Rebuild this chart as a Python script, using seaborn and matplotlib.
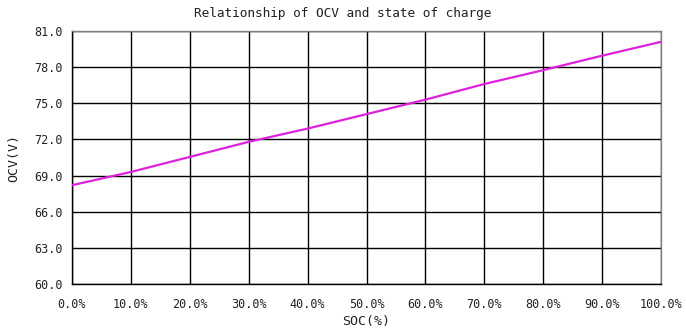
import matplotlib
matplotlib.use("Agg")
import matplotlib.pyplot as plt
import seaborn as sns
import pandas as pd
from matplotlib.ticker import FuncFormatter

# State of charge (%) and open-circuit voltage (V)
soc = [0, 10, 20, 30, 40, 50, 60, 70, 80, 90, 100]
ocv = [68.2, 69.3, 70.55, 71.8, 72.9, 74.1, 75.3, 76.6, 77.75, 78.95, 80.1]

y_ticks = [60, 63, 66, 69, 72, 75, 78, 81]
x_ticks = [0, 10, 20, 30, 40, 50, 60, 70, 80, 90, 100]

sns.set_style("white")
plt.rcParams["font.family"] = ["DejaVu Sans Mono"]

df = pd.DataFrame({"SOC": soc, "OCV": ocv})

fig = plt.figure(figsize=(6.86, 3.35), dpi=100)
ax = fig.add_axes([72 / 686, 1 - 284 / 335, (661 - 72) / 686, (284 - 31) / 335])

sns.lineplot(data=df, x="SOC", y="OCV", ax=ax, color="#dd22dd", linewidth=1.6, zorder=3)

ax.set_xlim(0, 100)
ax.set_ylim(60, 81)
ax.set_xticks(x_ticks)
ax.set_yticks(y_ticks)
ax.xaxis.set_major_formatter(FuncFormatter(lambda v, p: f"{v:.1f}%"))
ax.yaxis.set_major_formatter(FuncFormatter(lambda v, p: f"{v:.1f}"))
ax.tick_params(axis="both", length=0, labelsize=8.5, colors="#222222")
ax.tick_params(axis="x", pad=10)
ax.tick_params(axis="y", pad=7)

ax.grid(True, color="black", linewidth=1.0, zorder=1)
ax.set_axisbelow(True)
for side in ("left", "bottom"):
    ax.spines[side].set_color("black")
    ax.spines[side].set_linewidth(1.0)
for side in ("top", "right"):
    ax.spines[side].set_color("#808080")
    ax.spines[side].set_linewidth(1.0)

ax.set_xlabel("SOC(%)", fontsize=9.5, labelpad=3, color="#222222")
ax.set_ylabel("OCV(V)", fontsize=9.5, labelpad=10, color="#222222")
fig.text(0.5, 1 - 13 / 335, "Relationship of OCV and state of charge",
         ha="center", va="center", fontsize=9.2, color="#222222")

fig.savefig("out.png", dpi=100)
